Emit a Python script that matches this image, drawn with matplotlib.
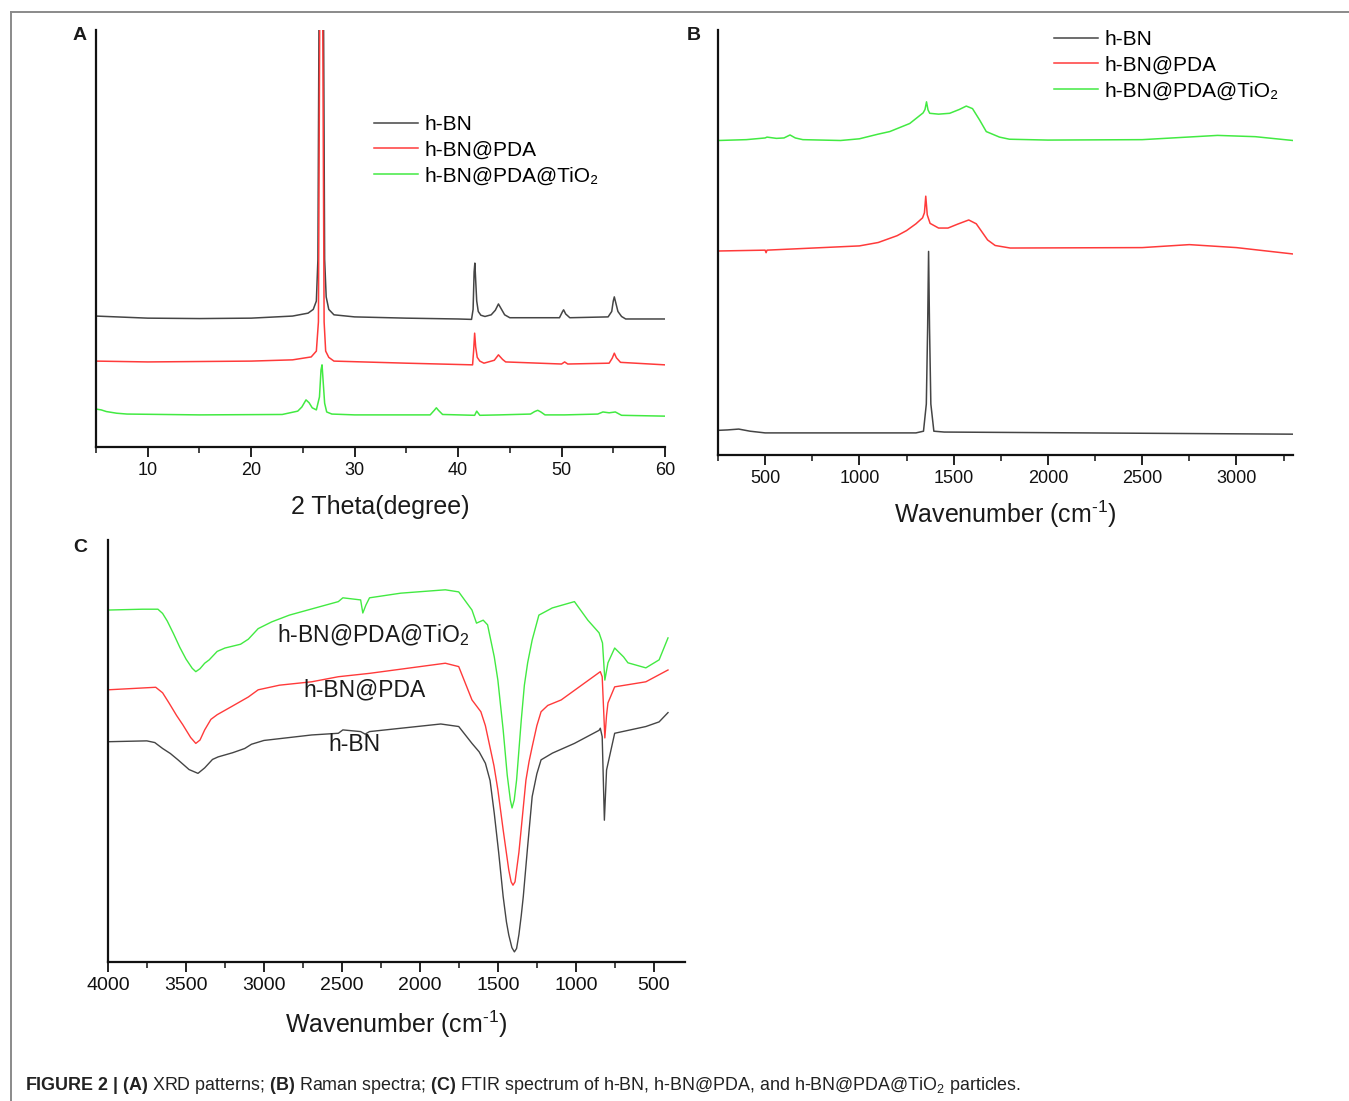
import matplotlib
matplotlib.use('Agg')
import matplotlib.pyplot as plt
from matplotlib.ticker import MultipleLocator, NullLocator
from matplotlib.lines import Line2D

plt.rcParams['font.family'] = ['Liberation Sans', 'DejaVu Sans']
plt.rcParams['mathtext.fontset'] = 'custom'
plt.rcParams['mathtext.rm'] = 'Liberation Sans'
plt.rcParams['mathtext.it'] = 'Liberation Sans:italic'
plt.rcParams['mathtext.bf'] = 'Liberation Sans:bold'

# ---------------- data ----------------
series_labels = ['h-BN', 'h-BN@PDA', 'h-BN@PDA@TiO₂']
ftir_labels = ['h-BN', 'h-BN@PDA', 'h-BN@PDA@TiO$_2$']

# (A) XRD, intensity in arbitrary units (offset curves)
xrd_x_hbn = [5, 10, 15, 20, 24, 25.5, 26.0, 26.3, 26.45, 26.55, 26.6, 26.95, 27.0, 27.1, 27.25, 27.5, 28,
             30, 35, 40, 41.3, 41.45, 41.55, 41.62, 41.7, 41.8, 41.95, 42.2, 42.6, 43.2, 43.6, 43.9,
             44.2, 44.5, 45, 49.8, 50.1, 50.2, 50.4, 50.8, 54.5, 54.85, 55.0, 55.1, 55.25, 55.45, 55.8,
             56.2, 60]
xrd_y_hbn = [31.4, 30.9, 30.8, 30.9, 31.4, 32.1, 33.0, 35.0, 45, 100, 160, 160, 100, 45, 36, 33, 31.7,
             31.2, 30.9, 30.7, 30.6, 33, 42, 44.1, 40, 35, 32.5, 31.6, 31.3, 31.7, 32.8, 34.3,
             33, 31.7, 31.0, 31.0, 32.5, 32.9, 31.9, 31.0, 31.2, 32.5, 35, 36.0, 34.5, 32.5, 31.3,
             30.7, 30.7]

xrd_x_pda = [5, 10, 20, 24, 25.8, 26.3, 26.5, 26.62, 26.68, 26.85, 26.92, 27.05, 27.2, 27.5, 28, 35,
             41.4, 41.5, 41.6, 41.7, 41.85, 42.1, 42.5, 43.5, 43.9, 44.3, 44.6, 50, 50.3, 50.6, 54.6,
             54.9, 55.1, 55.3, 55.7, 60]
xrd_y_pda = [20.6, 20.4, 20.6, 20.9, 21.6, 23, 30, 100, 160, 160, 100, 30, 23, 21.5, 20.6, 20.1,
             19.7, 23, 27.3, 24, 21.5, 20.6, 20.1, 20.8, 22.1, 21, 20.4, 19.9, 20.4, 19.9, 20.1,
             21.3, 22.5, 21.4, 20.3, 19.7]

xrd_x_tio2 = [5, 5.5, 6, 7, 8, 15, 23, 24.5, 24.9, 25.3, 25.6, 25.9, 26.3, 26.6, 26.75, 26.85, 26.95,
              27.1, 27.3, 27.8, 30, 37.3, 37.7, 37.9, 38.1, 38.5, 41.6, 41.8, 42.1, 44, 47, 47.4, 47.7,
              48.0, 48.4, 50.3, 53.5, 54, 54.6, 55.2, 55.8, 60]
xrd_y_tio2 = [9.1, 8.9, 8.5, 8.1, 7.9, 7.7, 7.8, 8.6, 9.6, 11.3, 10.6, 9.4, 8.9, 12, 18.5, 19.7, 16,
              10.5, 8.4, 7.9, 7.7, 7.7, 8.8, 9.4, 8.8, 7.8, 7.6, 8.6, 7.6, 7.7, 7.9, 8.5, 8.8,
              8.4, 7.7, 7.7, 7.9, 8.4, 8.2, 8.4, 7.6, 7.4]

# (B) Raman
raman_x_hbn = [250, 300, 360, 420, 500, 1300, 1340, 1355, 1362, 1367, 1372, 1379, 1395, 1450, 3300]
raman_y_hbn = [5.8, 5.9, 6.1, 5.6, 5.2, 5.2, 5.6, 12, 30, 47.9, 30, 12, 5.6, 5.4, 4.9]

raman_x_pda = [250, 500, 505, 510, 1000, 1100, 1200, 1250, 1300, 1335, 1345, 1352, 1360, 1375, 1420,
               1470, 1520, 1580, 1620, 1650, 1680, 1720, 1800, 2500, 2750, 3000, 3300]
raman_y_pda = [48.0, 48.2, 47.6, 48.2, 49.2, 50.0, 51.6, 52.8, 54.4, 55.8, 57.0, 60.9, 56.5, 54.5, 53.4,
               53.4, 54.3, 55.3, 54.4, 52.5, 50.6, 49.3, 48.7, 48.8, 49.5, 48.8, 47.3]

raman_x_tio2 = [250, 400, 500, 510, 560, 600, 632, 660, 700, 900, 1000, 1100, 1161, 1267, 1338, 1348,
                1356, 1364, 1373, 1420, 1479, 1530, 1567, 1600, 1638, 1673, 1743, 1796, 2000, 2500,
                2900, 3100, 3300]
raman_y_tio2 = [74.0, 74.2, 74.6, 74.8, 74.5, 74.6, 75.3, 74.6, 74.2, 74.0, 74.4, 75.5, 76.1, 78.0, 80.5,
                81.3, 83.1, 81.2, 80.4, 80.2, 80.4, 81.3, 82.1, 81.5, 78.8, 76.1, 74.8, 74.3, 74.1,
                74.2, 75.2, 74.9, 74.0]

# (C) FTIR, transmittance (a.u.)
ftir_x_hbn = [4000, 3751, 3700, 3650, 3600, 3551, 3480, 3423, 3380, 3330, 3294, 3200, 3123, 3080, 3000,
              2694, 2523, 2494, 2380, 2351, 2323, 1866, 1751, 1666, 1620, 1580, 1550, 1523, 1495,
              1466, 1445, 1430, 1410, 1394, 1380, 1365, 1350, 1337, 1310, 1280, 1250, 1223, 1150,
              1009, 851, 843, 831, 817, 803, 751, 551, 466, 409]
ftir_y_hbn = [52.2, 52.4, 52.0, 50.6, 49.4, 47.9, 45.6, 44.7, 46.0, 48.0, 48.6, 49.6, 50.6, 51.6, 52.5,
              53.8, 54.2, 55.0, 54.6, 54.0, 54.6, 56.4, 55.8, 51.8, 49.8, 47.1, 43.0, 35.2, 26.0,
              15.5, 9.5, 6.4, 3.4, 2.4, 3.2, 6.5, 11.0, 15.5, 27.0, 39.2, 44.6, 47.9, 49.5,
              51.8, 54.9, 55.4, 53.4, 33.6, 45.5, 54.2, 55.8, 56.9, 59.1]

ftir_x_pda = [4000, 3694, 3650, 3609, 3560, 3520, 3470, 3437, 3410, 3380, 3340, 3300, 3209, 3100, 3037,
              2900, 2694, 2523, 2323, 1837, 1751, 1666, 1609, 1580, 1551, 1525, 1500, 1466, 1430,
              1415, 1403, 1390, 1380, 1365, 1351, 1320, 1300, 1280, 1250, 1223, 1180, 1094, 843,
              831, 814, 803, 794, 751, 551, 409]
ftir_y_pda = [64.5, 65.1, 63.8, 61.4, 58.4, 56.2, 53.2, 51.8, 52.6, 55.0, 57.5, 58.6, 60.5, 62.8, 64.5,
              65.6, 66.4, 67.6, 68.4, 70.8, 70.0, 62.1, 59.3, 56.0, 51.0, 46.5, 40.8, 31.3, 21.8,
              19.0, 18.2, 19.0, 21.8, 26.0, 31.3, 43.1, 47.5, 51.0, 56.0, 59.3, 60.8, 62.1, 68.8,
              67.6, 53.1, 58.5, 61.4, 65.2, 66.4, 69.2]

ftir_x_tio2 = [4000, 3780, 3680, 3650, 3620, 3580, 3540, 3500, 3460, 3437, 3410, 3380, 3351, 3300, 3250,
               3150, 3100, 3037, 2950, 2837, 2700, 2523, 2494, 2380, 2366, 2346, 2323, 2123, 1837,
               1751, 1666, 1637, 1594, 1566, 1523, 1500, 1466, 1440, 1420, 1409, 1395, 1380, 1350,
               1330, 1309, 1280, 1237, 1151, 1009, 923, 851, 829, 814, 794, 751, 694, 666, 551, 466,
               409]
ftir_y_tio2 = [83.4, 83.6, 83.6, 82.6, 80.8, 77.8, 74.6, 71.8, 69.6, 68.8, 69.5, 70.8, 71.6, 73.6, 74.4,
               75.3, 76.5, 79.0, 80.6, 82.2, 83.6, 85.4, 86.3, 85.8, 82.7, 84.6, 86.3, 87.4, 88.2,
               87.7, 83.4, 80.3, 81.0, 79.9, 72.3, 66.8, 55.0, 44.3, 38.4, 36.5, 38.4, 43.1, 57.3,
               65.6, 70.9, 76.3, 82.2, 83.9, 85.4, 81.0, 78.0, 75.6, 66.8, 70.9, 74.4, 72.3, 70.9,
               69.7, 71.6, 76.8]

# ---------------- styling ----------------
W, H = 1349, 1101
colors = ['#454545', '#ff3a3a', '#42ea42']
TEXT = '#1a1a1a'

fig = plt.figure(figsize=(W / 100, H / 100), dpi=100)


def box(l, t, r, b):
    return [l / W, 1 - b / H, (r - l) / W, (b - t) / H]


def style(ax, labelsize):
    for s in ['top', 'right']:
        ax.spines[s].set_visible(False)
    for s in ['left', 'bottom']:
        ax.spines[s].set_linewidth(1.6)
        ax.spines[s].set_color('#111111')
    ax.yaxis.set_major_locator(NullLocator())
    ax.yaxis.set_minor_locator(NullLocator())
    ax.tick_params(axis='x', which='major', direction='out', length=7, width=1.3,
                   labelsize=labelsize, pad=4, colors='#111111')
    ax.tick_params(axis='x', which='minor', direction='out', length=4, width=1.1, colors='#111111')
    ax.set_ylim(0, 100)


wn_label = 'Wavenumber (cm$^{\u2010 1}$)'
leg_kw = dict(frameon=False, fontsize=15, handlelength=2.1, handletextpad=0.3, labelspacing=0.32,
              borderpad=0, borderaxespad=0)

# (A) XRD
axA = fig.add_axes(box(96, 30, 665, 447))
style(axA, 13)
for xs, ys, c, lab in zip([xrd_x_hbn, xrd_x_pda, xrd_x_tio2], [xrd_y_hbn, xrd_y_pda, xrd_y_tio2],
                          colors, series_labels):
    axA.plot(xs, ys, color=c, lw=1.1, label=lab)
axA.set_xlim(5, 60)
axA.xaxis.set_major_locator(MultipleLocator(10))
axA.xaxis.set_minor_locator(MultipleLocator(5))
axA.set_xlabel('2 Theta(degree)', fontsize=18, labelpad=11, color=TEXT)
axA.legend(loc='upper left', bbox_to_anchor=(374 / W, 1 - 115 / H), bbox_transform=fig.transFigure,
           **leg_kw)
fig.text(80 / W, 1 - 35 / H, 'A', fontsize=14, fontweight='bold', ha='center', va='center', color=TEXT)

# (B) Raman
axB = fig.add_axes(box(718, 30, 1293, 455))
style(axB, 13)
for xs, ys, c, lab in zip([raman_x_hbn, raman_x_pda, raman_x_tio2], [raman_y_hbn, raman_y_pda, raman_y_tio2],
                          colors, series_labels):
    axB.plot(xs, ys, color=c, lw=1.1, label=lab)
axB.set_xlim(250, 3300)
axB.xaxis.set_major_locator(MultipleLocator(500))
axB.xaxis.set_minor_locator(MultipleLocator(250))
axB.set_xlabel(wn_label, fontsize=18, labelpad=8, color=TEXT)
axB.legend(loc='upper left', bbox_to_anchor=(1054 / W, 1 - 30 / H), bbox_transform=fig.transFigure,
           **leg_kw)
fig.text(694 / W, 1 - 35 / H, 'B', fontsize=14, fontweight='bold', ha='center', va='center', color=TEXT)

# (C) FTIR
axC = fig.add_axes(box(108, 540, 685, 962))
style(axC, 14)
for xs, ys, c in zip([ftir_x_hbn, ftir_x_pda, ftir_x_tio2], [ftir_y_hbn, ftir_y_pda, ftir_y_tio2], colors):
    axC.plot(xs, ys, color=c, lw=1.0)
axC.set_xlim(4000, 300)
axC.xaxis.set_major_locator(MultipleLocator(500))
axC.xaxis.set_minor_locator(MultipleLocator(250))
axC.set_xlabel(wn_label, fontsize=18, labelpad=10, color=TEXT)
label_pos = [(2420, 51.5), (2355, 64.5), (2300, 77.5)]
for (lx, ly), lab in zip(label_pos, ftir_labels):
    axC.text(lx, ly, lab, fontsize=16.5, ha='center', va='center', color=TEXT)
fig.text(80 / W, 1 - 548 / H, 'C', fontsize=14, fontweight='bold', ha='center', va='center', color=TEXT)

# border lines of the figure panel
fig.add_artist(Line2D([11 / W, 1.0], [1 - 12 / H, 1 - 12 / H], transform=fig.transFigure,
                      color='#8a8a8a', lw=1.4))
fig.add_artist(Line2D([11 / W, 11 / W], [1 - 12 / H, 0.0], transform=fig.transFigure,
                      color='#8a8a8a', lw=1.4))

# caption
caption = (r'$\mathbf{FIGURE\ 2\ |\ (A)}$ XRD patterns; $\mathbf{(B)}$ Raman spectra; '
           r'$\mathbf{(C)}$ FTIR spectrum of h-BN, h-BN@PDA, and h-BN@PDA@TiO$_2$ particles.')
fig.text(25 / W, 1 - 1085 / H, caption, fontsize=12.9, ha='left', va='center', color='#222222')

fig.savefig('out.png', dpi=100)
